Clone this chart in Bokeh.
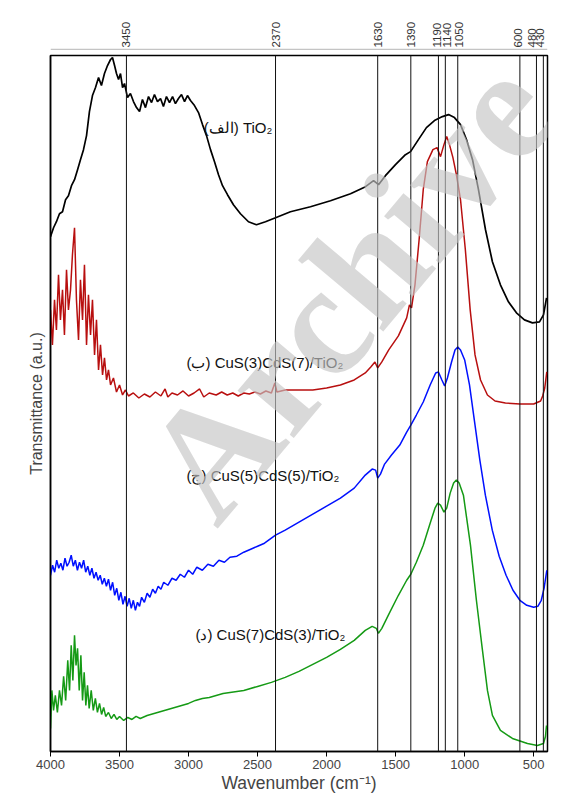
from math import pi

from bokeh.core.properties import value
from bokeh.embed import file_html
from bokeh.layouts import column
from bokeh.models import (ColumnDataSource, FixedTicker, Label, LinearAxis,
                          Range1d, Span)
from bokeh.plotting import figure
from bokeh.resources import INLINE

# ---- FTIR spectra (wavenumber in cm^-1, transmittance in arbitrary offset units)
tio2_wn = [4000, 3978, 3957, 3935, 3913, 3891, 3870, 3848, 3826, 3804, 3783, 3761,
           3739, 3718, 3696, 3674, 3652, 3631, 3609, 3587, 3565, 3551, 3536, 3522,
           3507, 3493, 3478, 3464, 3442, 3421, 3399, 3377, 3355, 3334, 3312, 3290,
           3268, 3247, 3225, 3203, 3182, 3160, 3138, 3116, 3095, 3073, 3051, 3029,
           3008, 2986, 2957, 2928, 2899, 2870, 2841, 2812, 2783, 2754, 2718, 2675,
           2624, 2566, 2508, 2443, 2370, 2262, 2117, 1972, 1827, 1718, 1660, 1624,
           1574, 1501, 1429, 1392, 1335, 1277, 1219, 1161, 1117, 1074, 1030, 987,
           943, 900, 849, 799, 741, 683, 625, 567, 509, 458, 429, 407]
tio2_t = [514, 523, 529, 537, 539, 551, 555, 565, 571, 581, 591, 601,
          615, 639, 655, 663, 673, 665, 677, 685, 691, 693, 685, 677,
          671, 677, 663, 667, 653, 657, 649, 643, 639, 651, 643, 654,
          648, 656, 649, 652, 644, 654, 648, 654, 647, 652, 656, 649,
          655, 650, 645, 638, 626, 615, 601, 589, 576, 565, 556, 546,
          537, 529, 526, 529, 533, 539, 544, 550, 557, 564, 570, 566,
          575, 586, 596, 599, 611, 623, 630, 634, 636, 633, 626, 611,
          591, 561, 521, 489, 466, 449, 438, 431, 428, 429, 436, 453]

cus3_wn = [4000, 3986, 3971, 3957, 3942, 3928, 3913, 3899, 3884, 3870, 3855, 3841,
           3826, 3812, 3797, 3783, 3768, 3754, 3739, 3725, 3710, 3696, 3681, 3667,
           3652, 3638, 3623, 3609, 3594, 3580, 3565, 3544, 3522, 3500, 3478, 3457,
           3435, 3400, 3360, 3320, 3280, 3240, 3200, 3170, 3150, 3120, 3080, 3040,
           3000, 2960, 2920, 2890, 2850, 2800, 2760, 2720, 2680, 2640, 2600, 2560,
           2520, 2480, 2440, 2400, 2375, 2360, 2300, 2200, 2100, 2000, 1900, 1800,
           1720, 1680, 1650, 1630, 1600, 1550, 1480, 1420, 1400, 1385, 1360, 1330,
           1300, 1270, 1230, 1200, 1175, 1150, 1130, 1110, 1085, 1060, 1030, 995,
           960, 925, 885, 835, 780, 705, 600, 500, 450, 435, 420, 405]
cus3_t = [441, 406, 451, 421, 476, 431, 461, 416, 481, 441, 461, 496,
          523, 451, 411, 471, 431, 486, 406, 456, 416, 451, 396, 431,
          381, 406, 376, 393, 371, 381, 366, 373, 359, 366, 356, 361,
          355, 358, 353, 357, 354, 359, 355, 362, 354, 358, 356, 360,
          355, 358, 362, 354, 358, 356, 359, 356, 358, 355, 358, 357,
          359, 357, 360, 358, 368, 359, 361, 361, 361, 363, 366, 371,
          378, 384, 389, 383, 389, 401, 415, 433, 446, 443, 466, 511,
          561, 589, 601, 603, 594, 606, 614, 606, 593, 576, 551, 501,
          441, 396, 371, 356, 350, 348, 347, 347, 350, 355, 363, 379]

cus5_wn = [4000, 3985, 3970, 3955, 3940, 3925, 3910, 3895, 3880, 3865, 3850, 3835,
           3820, 3805, 3790, 3775, 3760, 3745, 3730, 3715, 3700, 3685, 3670, 3655,
           3640, 3625, 3610, 3595, 3580, 3565, 3550, 3535, 3520, 3505, 3490, 3475,
           3460, 3445, 3430, 3415, 3400, 3385, 3370, 3355, 3340, 3320, 3300, 3280,
           3260, 3240, 3220, 3200, 3180, 3150, 3120, 3090, 3060, 3030, 3000, 2970,
           2940, 2900, 2860, 2820, 2780, 2740, 2700, 2650, 2600, 2550, 2500, 2450,
           2400, 2370, 2300, 2200, 2100, 2000, 1900, 1800, 1720, 1670, 1645, 1630,
           1610, 1580, 1530, 1470, 1420, 1390, 1350, 1300, 1250, 1210, 1190, 1165,
           1145, 1125, 1095, 1070, 1050, 1030, 1000, 965, 930, 890, 850, 800,
           750, 700, 650, 600, 550, 500, 470, 445, 425, 405]
cus5_t = [176, 186, 179, 191, 183, 188, 181, 193, 185, 189, 196, 185,
          191, 181, 189, 183, 191, 179, 185, 176, 183, 173, 179, 171,
          176, 167, 173, 165, 172, 161, 169, 156, 163, 151, 159, 147,
          155, 145, 153, 143, 151, 141, 149, 145, 154, 149, 158, 154,
          162, 158, 165, 162, 169, 166, 173, 171, 177, 174, 181, 177,
          184, 181, 187, 185, 191, 189, 194, 195, 199, 202, 205, 208,
          213, 216, 221, 229, 237, 245, 253, 263, 276, 282, 281, 273,
          277, 287, 296, 306, 319, 326, 336, 349, 366, 378, 379, 371,
          365, 373, 389, 401, 404, 401, 391, 366, 331, 291, 256, 221,
          195, 176, 161, 151, 146, 144, 145, 151, 163, 181]

cus7_wn = [4000, 3990, 3978, 3965, 3950, 3935, 3920, 3905, 3890, 3875, 3862, 3850,
           3838, 3826, 3815, 3804, 3792, 3780, 3768, 3756, 3744, 3732, 3720, 3705,
           3690, 3675, 3660, 3645, 3630, 3615, 3600, 3580, 3560, 3540, 3520, 3500,
           3470, 3440, 3410, 3380, 3350, 3300, 3250, 3200, 3150, 3100, 3050, 3000,
           2950, 2900, 2850, 2800, 2750, 2700, 2600, 2500, 2400, 2300, 2200, 2100,
           2000, 1900, 1800, 1720, 1670, 1640, 1625, 1600, 1550, 1480, 1420, 1390,
           1350, 1300, 1250, 1215, 1195, 1175, 1150, 1130, 1105, 1080, 1060, 1040,
           1009, 958, 915, 871, 835, 799, 741, 654, 545, 473, 429, 415, 407]
cus7_t = [23, 61, 41, 56, 39, 61, 46, 75, 51, 91, 61, 106,
          71, 116, 86, 103, 61, 96, 51, 79, 46, 66, 43, 61,
          41, 53, 39, 48, 37, 44, 35, 39, 33, 37, 32, 35,
          31, 34, 32, 35, 33, 36, 38, 40, 42, 44, 46, 48,
          51, 53, 54, 56, 58, 59, 61, 65, 69, 74, 80, 87,
          94, 102, 111, 121, 125, 123, 118, 123, 137, 156, 171, 177,
          189, 206, 228, 243, 248, 246, 239, 243, 258, 268, 271, 268,
          256, 206, 151, 101, 61, 36, 21, 13, 8, 6, 8, 15, 26]

marker_wn = [3450, 2370, 1630, 1390, 1190, 1140, 1050, 600, 480, 430]
x_ticks = [4000, 3500, 3000, 2500, 2000, 1500, 1000, 500]

FONT = "Liberation Sans"

# ---- page geometry (pixels)
PAGE_W, PAGE_H = 564, 795
OFF_LEFT, OFF_TOP = 10, 11
INNER_W = PAGE_W - OFF_LEFT
HEAD_H = 39
MAIN_H = PAGE_H - OFF_TOP - HEAD_H


def bare(w, h, **kw):
    f = figure(width=w, height=h, output_backend="svg", toolbar_location=None,
               x_axis_location=None, y_axis_location=None, **kw)
    f.xgrid.visible = False
    f.ygrid.visible = False
    return f


# ---- main spectrum plot
p = bare(INNER_W, MAIN_H, x_range=Range1d(4000, 400), y_range=Range1d(0, 695),
         min_border_left=40, min_border_right=17, min_border_top=5, min_border_bottom=44)
p.outline_line_color = "black"
p.outline_line_width = 1.5

xax = LinearAxis(ticker=FixedTicker(ticks=x_ticks), axis_label="Wavenumber (cm\u207b\u00b9)")
xax.axis_line_width = 1.5
xax.major_tick_out = 5
xax.major_tick_in = 0
xax.minor_tick_line_color = None
xax.major_label_text_font = FONT
xax.major_label_text_font_size = "13px"
xax.major_label_standoff = 3
xax.axis_label_text_font = FONT
xax.axis_label_text_font_size = "17.5px"
xax.axis_label_text_font_style = "normal"
xax.axis_label_standoff = 1
p.add_layout(xax, "below")

yax = LinearAxis(ticker=FixedTicker(ticks=[]), axis_label="Transmittance (a.u.)")
yax.axis_line_width = 1.5
yax.major_label_text_font_size = "0px"
yax.major_tick_line_color = None
yax.minor_tick_line_color = None
yax.axis_label_text_font = FONT
yax.axis_label_text_font_size = "16px"
yax.axis_label_text_font_style = "normal"
yax.axis_label_standoff = 6
p.add_layout(yax, "left")

for wn in marker_wn:
    p.add_layout(Span(location=wn, dimension="height", line_color="#111111", line_width=1))

p.line(tio2_wn, tio2_t, line_color="black", line_width=1.7)
p.line(cus3_wn, cus3_t, line_color="#b80f0f", line_width=1.5)
p.line(cus5_wn, cus5_t, line_color="#0010ff", line_width=1.5)
p.line(cus7_wn, cus7_t, line_color="#159a15", line_width=1.5)

labels = [
    ("(\u0627\u0644\u0641) TiO\u2082", 2890, 623),
    ("(\u0628) CuS(3)CdS(7)/TiO\u2082", 3015, 388),
    ("(\u062c) CuS(5)CdS(5)/TiO\u2082", 3015, 276),
    ("(\u062f) CuS(7)CdS(3)/TiO\u2082", 2950, 117),
]
for txt, lx, ly in labels:
    p.add_layout(Label(x=lx, y=ly, text=txt, text_font=FONT, text_font_size="15px",
                       text_baseline="middle", text_align="left", text_color="#111111"))

# watermark
p.add_layout(Label(x=3095, y=256, text="Archive", text_font="Liberation Serif",
                   text_font_size="160px", text_font_style="bold", angle=50,
                   angle_units="deg", text_color="#c5c5c5", text_alpha=0.65,
                   text_baseline="alphabetic", text_align="left"))

# ---- header strip with the band positions, sharing the wavenumber scale
head = bare(INNER_W, HEAD_H, x_range=p.x_range, y_range=Range1d(0, HEAD_H),
            min_border_left=40, min_border_right=17, min_border_top=0, min_border_bottom=0)
head.outline_line_color = None
head.add_layout(Span(location=1, dimension="width", line_color="#c4c4c4", line_width=1.5))
label_shift = [0, 0, 0, 0, -1, 2, 1, -2, -4, -3]
band_src = ColumnDataSource(dict(wn=marker_wn, label=[str(w) for w in marker_wn],
                                 dx=label_shift))
head.text(x="wn", y=3, text="label", x_offset="dx", source=band_src, angle=pi / 2,
          text_align="left", text_baseline="middle", text_font=value(FONT),
          text_font_size="11.5px", text_color="#333333")

root = column(head, p, spacing=0, margin=(OFF_TOP, 0, 0, OFF_LEFT))

open("out.html", "w").write(file_html(root, INLINE))
